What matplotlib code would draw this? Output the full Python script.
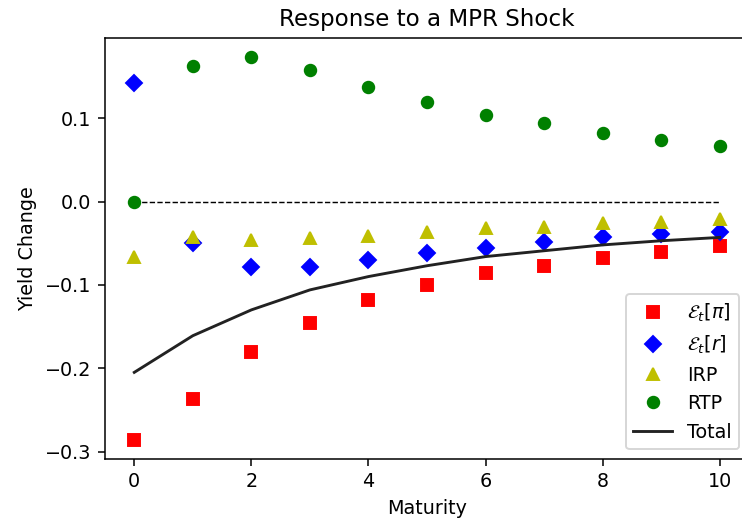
import numpy as np
import matplotlib
matplotlib.use('Agg')
import matplotlib.pyplot as plt

# maturities
maturity = np.arange(0, 11)

# decomposition of the yield response
exp_infl = [-0.286, -0.237, -0.181, -0.146, -0.118, -0.100, -0.086, -0.077, -0.068, -0.060, -0.053]
exp_rate = [0.142, -0.050, -0.079, -0.079, -0.070, -0.062, -0.056, -0.048, -0.043, -0.039, -0.036]
irp = [-0.066, -0.042, -0.046, -0.044, -0.041, -0.037, -0.032, -0.030, -0.026, -0.024, -0.021]
rtp = [0.000, 0.163, 0.174, 0.158, 0.137, 0.119, 0.104, 0.094, 0.082, 0.074, 0.067]
total = [-0.205, -0.161, -0.130, -0.106, -0.090, -0.077, -0.066, -0.059, -0.052, -0.047, -0.043]

dpi = 138
fig = plt.figure(figsize=(742 / dpi, 527 / dpi), dpi=dpi)
# axes run a bit past the right edge, like the cropped original
ax = fig.add_axes([105 / 742, 1 - 459 / 527, 644 / 742, 421.5 / 527])

ax.plot(maturity, np.zeros(len(maturity)), 'k--', linewidth=0.75)
ax.plot(maturity, exp_infl, 'rs', label=r'$\mathcal{E}_t[\pi]$')
ax.plot(maturity, exp_rate, 'bD', label=r'$\mathcal{E}_t[r]$')
ax.plot(maturity, irp, 'y^', label='IRP')
ax.plot(maturity, rtp, 'go', label='RTP')
ax.plot(maturity, total, color='#222222', linewidth=1.5, label='Total')

ax.set_title('Response to a MPR Shock')
ax.set_xlabel('Maturity')
ax.set_ylabel('Yield Change')
ax.legend(loc='lower right')

fig.savefig('out.png', dpi=dpi)
